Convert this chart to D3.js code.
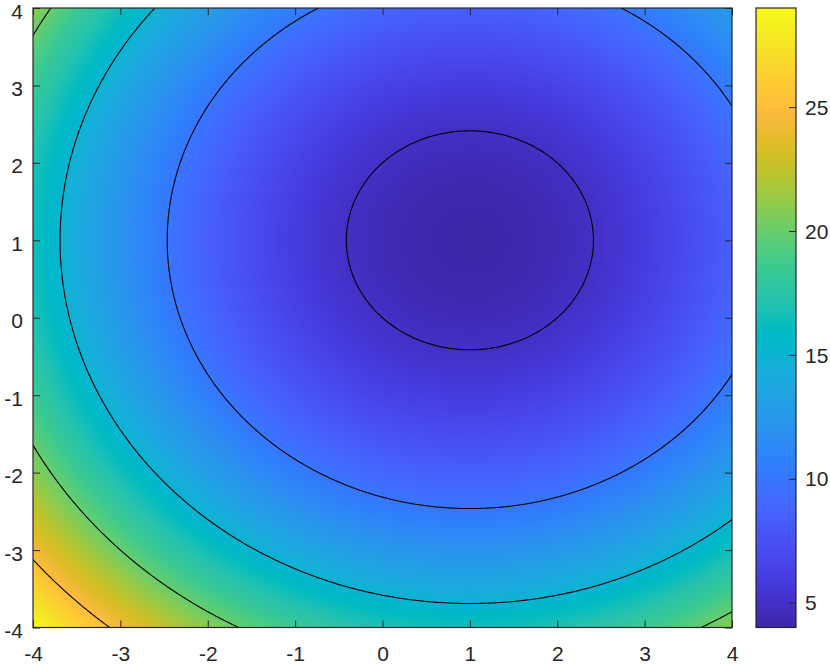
<!DOCTYPE html>
<html>
<head>
<meta charset="utf-8">
<script src="https://cdn.jsdelivr.net/npm/d3@7"></script>
<style>
  body { margin: 0; background: #fff; }
  text { font-family: "Liberation Sans", Arial, Helvetica, sans-serif; }
</style>
</head>
<body>
<script>
// grid of the surface (rows go from y = -4 up to y = 4)
const gridX = [-4, -3.5, -3, -2.5, -2, -1.5, -1, -0.5, 0, 0.5, 1, 1.5, 2, 2.5, 3, 3.5, 4];
const gridY = [-4, -3.5, -3, -2.5, -2, -1.5, -1, -0.5, 0, 0.5, 1, 1.5, 2, 2.5, 3, 3.5, 4];
const zGrid = [
  [29, 26.625, 24.5, 22.625, 21, 19.625, 18.5, 17.625, 17, 16.625, 16.5, 16.625, 17, 17.625, 18.5, 19.625, 21],
  [26.625, 24.25, 22.125, 20.25, 18.625, 17.25, 16.125, 15.25, 14.625, 14.25, 14.125, 14.25, 14.625, 15.25, 16.125, 17.25, 18.625],
  [24.5, 22.125, 20, 18.125, 16.5, 15.125, 14, 13.125, 12.5, 12.125, 12, 12.125, 12.5, 13.125, 14, 15.125, 16.5],
  [22.625, 20.25, 18.125, 16.25, 14.625, 13.25, 12.125, 11.25, 10.625, 10.25, 10.125, 10.25, 10.625, 11.25, 12.125, 13.25, 14.625],
  [21, 18.625, 16.5, 14.625, 13, 11.625, 10.5, 9.625, 9, 8.625, 8.5, 8.625, 9, 9.625, 10.5, 11.625, 13],
  [19.625, 17.25, 15.125, 13.25, 11.625, 10.25, 9.125, 8.25, 7.625, 7.25, 7.125, 7.25, 7.625, 8.25, 9.125, 10.25, 11.625],
  [18.5, 16.125, 14, 12.125, 10.5, 9.125, 8, 7.125, 6.5, 6.125, 6, 6.125, 6.5, 7.125, 8, 9.125, 10.5],
  [17.625, 15.25, 13.125, 11.25, 9.625, 8.25, 7.125, 6.25, 5.625, 5.25, 5.125, 5.25, 5.625, 6.25, 7.125, 8.25, 9.625],
  [17, 14.625, 12.5, 10.625, 9, 7.625, 6.5, 5.625, 5, 4.625, 4.5, 4.625, 5, 5.625, 6.5, 7.625, 9],
  [16.625, 14.25, 12.125, 10.25, 8.625, 7.25, 6.125, 5.25, 4.625, 4.25, 4.125, 4.25, 4.625, 5.25, 6.125, 7.25, 8.625],
  [16.5, 14.125, 12, 10.125, 8.5, 7.125, 6, 5.125, 4.5, 4.125, 4, 4.125, 4.5, 5.125, 6, 7.125, 8.5],
  [16.625, 14.25, 12.125, 10.25, 8.625, 7.25, 6.125, 5.25, 4.625, 4.25, 4.125, 4.25, 4.625, 5.25, 6.125, 7.25, 8.625],
  [17, 14.625, 12.5, 10.625, 9, 7.625, 6.5, 5.625, 5, 4.625, 4.5, 4.625, 5, 5.625, 6.5, 7.625, 9],
  [17.625, 15.25, 13.125, 11.25, 9.625, 8.25, 7.125, 6.25, 5.625, 5.25, 5.125, 5.25, 5.625, 6.25, 7.125, 8.25, 9.625],
  [18.5, 16.125, 14, 12.125, 10.5, 9.125, 8, 7.125, 6.5, 6.125, 6, 6.125, 6.5, 7.125, 8, 9.125, 10.5],
  [19.625, 17.25, 15.125, 13.25, 11.625, 10.25, 9.125, 8.25, 7.625, 7.25, 7.125, 7.25, 7.625, 8.25, 9.125, 10.25, 11.625],
  [21, 18.625, 16.5, 14.625, 13, 11.625, 10.5, 9.625, 9, 8.625, 8.5, 8.625, 9, 9.625, 10.5, 11.625, 13]
];
const contourLevels = [5, 10, 15, 20, 25];
const xTicks = [-4, -3, -2, -1, 0, 1, 2, 3, 4];
const yTicks = [-4, -3, -2, -1, 0, 1, 2, 3, 4];
const cbTicks = [5, 10, 15, 20, 25];
const colorRange = [4, 29];

// parula(64)
const parula = [
  [0.2422,0.1504,0.6603],[0.2504,0.1650,0.7076],[0.2578,0.1818,0.7511],[0.2647,0.1978,0.7952],
  [0.2706,0.2147,0.8364],[0.2751,0.2342,0.8710],[0.2783,0.2559,0.8991],[0.2803,0.2782,0.9221],
  [0.2813,0.3006,0.9414],[0.2810,0.3228,0.9579],[0.2795,0.3447,0.9717],[0.2760,0.3667,0.9829],
  [0.2699,0.3892,0.9906],[0.2602,0.4123,0.9952],[0.2440,0.4358,0.9988],[0.2206,0.4603,0.9973],
  [0.1963,0.4847,0.9892],[0.1834,0.5074,0.9798],[0.1786,0.5289,0.9682],[0.1764,0.5499,0.9520],
  [0.1687,0.5703,0.9359],[0.1540,0.5902,0.9218],[0.1460,0.6091,0.9079],[0.1380,0.6276,0.8973],
  [0.1248,0.6459,0.8883],[0.1113,0.6635,0.8763],[0.0952,0.6798,0.8598],[0.0689,0.6948,0.8394],
  [0.0297,0.7082,0.8163],[0.0036,0.7203,0.7917],[0.0067,0.7312,0.7660],[0.0433,0.7411,0.7394],
  [0.0964,0.7500,0.7120],[0.1408,0.7584,0.6842],[0.1717,0.7670,0.6554],[0.1938,0.7758,0.6251],
  [0.2161,0.7843,0.5923],[0.2470,0.7918,0.5567],[0.2906,0.7973,0.5188],[0.3406,0.8008,0.4789],
  [0.3909,0.8029,0.4354],[0.4456,0.8024,0.3909],[0.5044,0.7993,0.3480],[0.5616,0.7942,0.3045],
  [0.6174,0.7876,0.2612],[0.6720,0.7793,0.2227],[0.7242,0.7698,0.1910],[0.7738,0.7598,0.1646],
  [0.8203,0.7498,0.1535],[0.8634,0.7406,0.1596],[0.9035,0.7330,0.1774],[0.9393,0.7288,0.2100],
  [0.9728,0.7298,0.2394],[0.9956,0.7434,0.2371],[0.9970,0.7659,0.2199],[0.9952,0.7893,0.2028],
  [0.9892,0.8136,0.1885],[0.9786,0.8386,0.1766],[0.9676,0.8639,0.1643],[0.9610,0.8890,0.1537],
  [0.9597,0.9135,0.1423],[0.9628,0.9373,0.1265],[0.9691,0.9606,0.1064],[0.9769,0.9839,0.0805]
];

const W = 830, H = 664;
const plot = { left: 33, right: 732, top: 8, bottom: 627.5 };
const cb = { left: 756, right: 796 };
const axisColor = "#262626";
const fontSize = 21;

const x = d3.scaleLinear().domain([-4, 4]).range([plot.left, plot.right]);
const y = d3.scaleLinear().domain([-4, 4]).range([plot.bottom, plot.top]);
const cIndex = d3.scaleLinear().domain(colorRange).range([0, parula.length - 1]).clamp(true);

function colorOf(v) {
  const f = cIndex(v);
  const k = Math.min(Math.floor(f), parula.length - 2);
  const t = f - k;
  const a = parula[k], b = parula[k + 1];
  return [0, 1, 2].map(c => Math.round(255 * (a[c] + (b[c] - a[c]) * t)));
}

// pad grid by one cell on every side (quadratic extrapolation) for bicubic sampling
const nx = gridX.length, ny = gridY.length;
function padRow(r) {
  const n = r.length;
  return [3 * r[0] - 3 * r[1] + r[2], ...r, 3 * r[n - 1] - 3 * r[n - 2] + r[n - 3]];
}
let ext = zGrid.map(padRow);
{
  const n = ext.length;
  const first = ext[0].map((_, i) => 3 * ext[0][i] - 3 * ext[1][i] + ext[2][i]);
  const last = ext[0].map((_, i) => 3 * ext[n - 1][i] - 3 * ext[n - 2][i] + ext[n - 3][i]);
  ext = [first, ...ext, last];
}
function cr(t) {
  const t2 = t * t, t3 = t2 * t;
  return [(-t + 2 * t2 - t3) / 2, (2 - 5 * t2 + 3 * t3) / 2, (t + 4 * t2 - 3 * t3) / 2, (-t2 + t3) / 2];
}
const stepX = gridX[1] - gridX[0], stepY = gridY[1] - gridY[0];
function sample(xv, yv) {
  let gi = Math.max(0, Math.min(nx - 1, (xv - gridX[0]) / stepX));
  let gj = Math.max(0, Math.min(ny - 1, (yv - gridY[0]) / stepY));
  const i0 = Math.min(Math.floor(gi), nx - 2), j0 = Math.min(Math.floor(gj), ny - 2);
  const wx = cr(gi - i0), wy = cr(gj - j0);
  let s = 0;
  for (let b = 0; b < 4; b++) {
    const row = ext[j0 + b];
    let r = 0;
    for (let a = 0; a < 4; a++) r += wx[a] * row[i0 + a];
    s += wy[b] * r;
  }
  return s;
}

const svg = d3.select("body").append("svg").attr("width", W).attr("height", H);

// surface image
const pw = Math.round(plot.right - plot.left), ph = Math.round(plot.bottom - plot.top);
const canvas = document.createElement("canvas");
canvas.width = pw; canvas.height = ph;
const ctx = canvas.getContext("2d");
const img = ctx.createImageData(pw, ph);
for (let j = 0; j < ph; j++) {
  const yv = y.invert(plot.top + (j + 0.5) * (plot.bottom - plot.top) / ph);
  for (let i = 0; i < pw; i++) {
    const xv = x.invert(plot.left + (i + 0.5) * (plot.right - plot.left) / pw);
    const c = colorOf(sample(xv, yv));
    const o = (j * pw + i) * 4;
    img.data[o] = c[0]; img.data[o + 1] = c[1]; img.data[o + 2] = c[2]; img.data[o + 3] = 255;
  }
}
ctx.putImageData(img, 0, 0);
svg.append("image")
  .attr("x", plot.left).attr("y", plot.top)
  .attr("width", plot.right - plot.left).attr("height", plot.bottom - plot.top)
  .attr("preserveAspectRatio", "none")
  .attr("href", canvas.toDataURL());

// contour lines
svg.append("clipPath").attr("id", "plotClip")
  .append("rect")
  .attr("x", plot.left).attr("y", plot.top)
  .attr("width", plot.right - plot.left).attr("height", plot.bottom - plot.top);

const fine = 0.02, nf = Math.round(8 / fine) + 1;
const fineVals = new Float64Array(nf * nf);
for (let j = 0; j < nf; j++) {
  for (let i = 0; i < nf; i++) fineVals[j * nf + i] = sample(-4 + i * fine, 4 - j * fine);
}
const contours = d3.contours().size([nf, nf]).thresholds(contourLevels)(fineVals);
const proj = d3.geoTransform({
  point(px, py) { this.stream.point(x(-4 + (px - 0.5) * fine), y(4 - (py - 0.5) * fine)); }
});
svg.append("g").attr("clip-path", "url(#plotClip)")
  .selectAll("path").data(contours).join("path")
  .attr("d", d3.geoPath(proj))
  .attr("fill", "none")
  .attr("stroke", "#000")
  .attr("stroke-width", 1.1);

// axes
const fmt = d => String(d);
function styleAxis(g) {
  g.select(".domain").remove();
  g.selectAll(".tick line").attr("stroke", axisColor);
  g.selectAll("text").attr("fill", axisColor).style("font-size", fontSize + "px");
}
svg.append("g").attr("transform", `translate(0,${plot.bottom})`)
  .call(d3.axisBottom(x).tickValues(xTicks).tickFormat(fmt).tickSizeInner(-7).tickSizeOuter(0).tickPadding(19))
  .call(styleAxis);
svg.append("g").attr("transform", `translate(0,${plot.top})`)
  .call(d3.axisTop(x).tickValues(xTicks).tickFormat("").tickSizeInner(-7).tickSizeOuter(0))
  .call(styleAxis);
svg.append("g").attr("transform", `translate(${plot.left},0)`)
  .call(d3.axisLeft(y).tickValues(yTicks).tickFormat(fmt).tickSizeInner(-7).tickSizeOuter(0).tickPadding(10))
  .call(styleAxis)
  .call(g => g.selectAll("text").attr("dy", "0.48em"));
svg.append("g").attr("transform", `translate(${plot.right},0)`)
  .call(d3.axisRight(y).tickValues(yTicks).tickFormat("").tickSizeInner(-7).tickSizeOuter(0))
  .call(styleAxis);
svg.append("rect")
  .attr("x", plot.left).attr("y", plot.top)
  .attr("width", plot.right - plot.left).attr("height", plot.bottom - plot.top)
  .attr("fill", "none").attr("stroke", axisColor).attr("stroke-width", 1.2);

// colorbar
const cy = d3.scaleLinear().domain(colorRange).range([plot.bottom, plot.top]);
const grad = svg.append("defs").append("linearGradient").attr("id", "parulaGrad")
  .attr("x1", 0).attr("y1", 1).attr("x2", 0).attr("y2", 0);
grad.selectAll("stop").data(parula).join("stop")
  .attr("offset", (d, k) => k / (parula.length - 1))
  .attr("stop-color", d => d3.rgb(d[0] * 255, d[1] * 255, d[2] * 255).toString());
svg.append("rect")
  .attr("x", cb.left).attr("y", plot.top)
  .attr("width", cb.right - cb.left).attr("height", plot.bottom - plot.top)
  .attr("fill", "url(#parulaGrad)");
svg.append("g").attr("transform", `translate(${cb.right},0)`)
  .call(d3.axisRight(cy).tickValues(cbTicks).tickFormat(fmt).tickSizeInner(-7).tickSizeOuter(0).tickPadding(9))
  .call(styleAxis)
  .call(g => g.selectAll("text").attr("dy", "0.34em"));
svg.append("rect")
  .attr("x", cb.left).attr("y", plot.top)
  .attr("width", cb.right - cb.left).attr("height", plot.bottom - plot.top)
  .attr("fill", "none").attr("stroke", axisColor).attr("stroke-width", 1.2);
</script>
</body>
</html>
